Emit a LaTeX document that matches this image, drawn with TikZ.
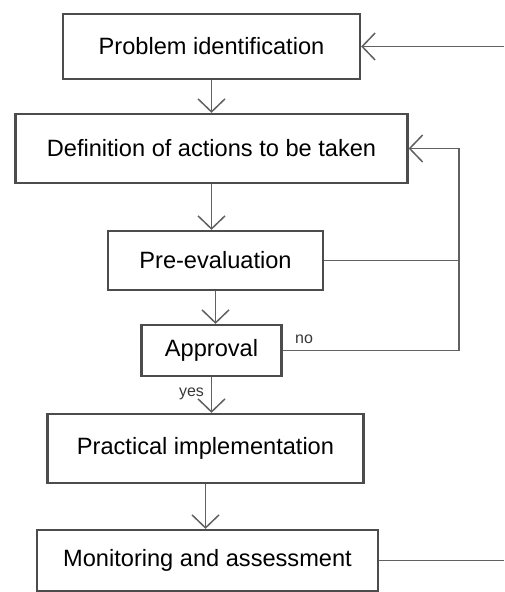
\documentclass[tikz,border=0pt]{standalone}
\usepackage{fontspec}
\setmainfont{Liberation Sans}
\usetikzlibrary{arrows.meta, positioning}

\begin{document}
\begin{tikzpicture}[
        x=1pt, y=-1pt,
        on grid,
        box/.style={draw=black!70, line width=2.2pt, fill=white,
            inner sep=0pt, font=\fontsize{23.6}{28}\selectfont},
        flow/.style={draw=black!62, line width=1.8pt,
            -{Straight Barb[length=13pt, width=27pt, line width=1.5pt]}},
        link/.style={draw=black!62, line width=1.8pt},
        tag/.style={font=\fontsize{16}{18}\selectfont, text=black!78}
        ]
            \useasboundingbox (0,0) rectangle (504,592);

            \node[box, minimum width=297pt, minimum height=65pt] (PROB) at (211.5,46.5) {Problem identification};
            \node[box, minimum width=392pt, minimum height=69pt, below=102pt of PROB] (DEF) {Definition of actions to be taken};
            \node[box, minimum width=215pt, minimum height=59pt, below=112pt of DEF, xshift=4pt] (PRE) {Pre-evaluation};
            \node[box, minimum width=140pt, minimum height=51pt, below=90pt of PRE, xshift=-4pt] (APPR) {Approval};
            \node[box, minimum width=316pt, minimum height=69pt, below=98pt of APPR, xshift=-6pt] (PRAC) {Practical implementation};
            \node[box, minimum width=341pt, minimum height=61pt, below=112pt of PRAC, xshift=2pt] (MON) {Monitoring and assessment};

            \coordinate (LOOP) at (459,0);
            \coordinate (EDGE) at (504,0);

            \path[flow]
                (PROB.south) -- (PROB.south |- DEF.north);
            \path[flow]
                (DEF.south) -- (DEF.south |- PRE.north);
            \path[flow]
                (PRE.south) -- (PRE.south |- APPR.north);
            \path[flow]
                (APPR.south) -- (APPR.south |- PRAC.north);
            \path[flow]
                (PRAC.south) -- (PRAC.south |- MON.north);

            \path[flow] (APPR.east) -| (LOOP |- DEF.east) -- (DEF.east);
            \path[link] (PRE.east) -- (PRE.east -| LOOP);

            \path[flow] (PROB.east -| EDGE) -- (PROB.east);
            \path[link] (MON.east) -- (MON.east -| EDGE);

            \node[tag, anchor=base west] (NO) at ([xshift=9pt, yshift=7pt]APPR.east) {no};
            \node[tag, anchor=north east] (YES) at ([xshift=-4pt, yshift=-7pt]APPR.south) {yes};
        \end{tikzpicture}
\end{document}
